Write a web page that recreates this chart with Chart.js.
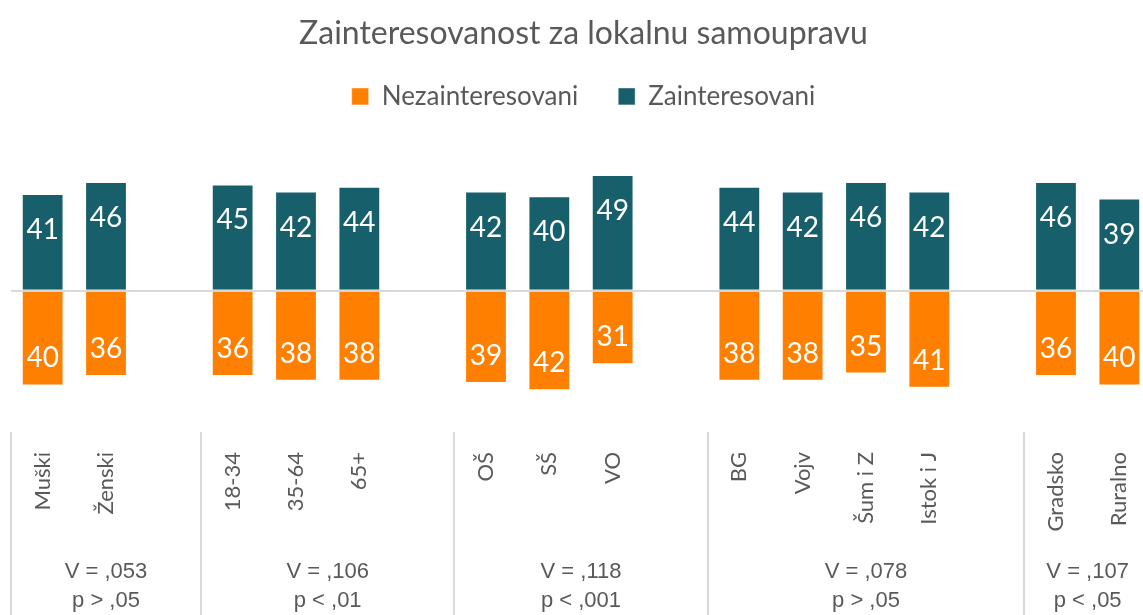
<!DOCTYPE html>
<html>
<head>
<meta charset="utf-8">
<script src="https://cdn.jsdelivr.net/npm/chart.js@4.4.1/dist/chart.umd.min.js"></script>
<style>
  html, body { margin: 0; padding: 0; background: #fff; overflow: hidden; }
  #wrap { width: 1166px; height: 615px; position: relative; }
</style>
</head>
<body>
<div id="wrap"><canvas id="chart"></canvas></div>
<script>
// categories, with empty slots between the groups
const categories = ["Muški", "Ženski", "", "18-34", "35-64", "65+", "", "OŠ", "SŠ", "VO", "",
  "BG", "Vojv", "Šum i Z", "Istok i J", "", "Gradsko", "Ruralno"];
const zainteresovani = [41, 46, null, 45, 42, 44, null, 42, 40, 49, null, 44, 42, 46, 42, null, 46, 39];
const nezainteresovani = [40, 36, null, 36, 38, 38, null, 39, 42, 31, null, 38, 38, 35, 41, null, 36, 40];

// group boundaries (category index where a group starts) and their statistics
const groupStarts = [0, 3, 7, 11, 16, 18];
const groupV = ["V = ,053", "V = ,106", "V = ,118", "V = ,078", "V = ,107"];
const groupP = ["p > ,05", "p < ,01", "p < ,001", "p > ,05", "p < ,05"];

const ORANGE = "#FF7F00";
const TEAL = "#17606B";
const GREY = "#595959";
const FONT = "Lato";

const valueLabels = {
  id: "valueLabels",
  afterDatasetsDraw(chart) {
    const ctx = chart.ctx;
    ctx.save();
    ctx.fillStyle = "#fff";
    ctx.font = "28px " + FONT;
    ctx.textAlign = "center";
    ctx.textBaseline = "middle";
    chart.data.datasets.forEach((ds, di) => {
      const meta = chart.getDatasetMeta(di);
      meta.data.forEach((bar, i) => {
        const v = ds.data[i];
        if (v === null || v === undefined) return;
        const y = v > 0 ? bar.y + 36 : bar.y - 27;
        ctx.fillText(String(Math.abs(v)), bar.x, y);
      });
    });
    ctx.restore();
  }
};

const groupNotes = {
  id: "groupNotes",
  afterDraw(chart) {
    const ctx = chart.ctx;
    const x = chart.scales.x;
    const slot = x.getPixelForValue(1) - x.getPixelForValue(0);
    const edge = (i) => x.getPixelForValue(0) - slot / 2 + i * slot;
    const top = chart.chartArea.bottom;
    ctx.save();
    ctx.strokeStyle = "#D9D9D9";
    ctx.lineWidth = 2;
    groupStarts.slice(0, -1).forEach((g) => {
      const px = Math.round(edge(g));
      ctx.beginPath();
      ctx.moveTo(px, top);
      ctx.lineTo(px, chart.height);
      ctx.stroke();
    });
    ctx.fillStyle = GREY;
    ctx.font = "22px 'Liberation Sans'";
    ctx.textAlign = "center";
    ctx.textBaseline = "middle";
    groupV.forEach((t, k) => {
      const cx = (edge(groupStarts[k]) + edge(groupStarts[k + 1])) / 2;
      ctx.fillText(t, cx, 572);
      ctx.fillText(groupP[k], cx, 601);
    });
    ctx.restore();
  }
};

new Chart(document.getElementById("chart"), {
  type: "bar",
  data: {
    labels: categories,
    datasets: [
      {
        label: "Nezainteresovani",
        data: nezainteresovani.map((v) => (v === null ? null : -v)),
        backgroundColor: ORANGE,
        borderColor: "rgba(255,255,255,0.5)",
        borderWidth: 1,
      },
      {
        label: "Zainteresovani",
        data: zainteresovani,
        backgroundColor: TEAL,
        borderColor: "rgba(255,255,255,0.5)",
        borderWidth: 1,
      },
    ],
  },
  options: {
    responsive: true,
    maintainAspectRatio: false,
    animation: false,
    layout: { padding: { left: 11, right: 10, top: 0, bottom: 0 } },
    datasets: { bar: { categoryPercentage: 1, barPercentage: 0.66 } },
    plugins: {
      title: {
        display: true,
        text: "Zainteresovanost za lokalnu samoupravu",
        color: GREY,
        font: { family: FONT, size: 32, weight: "normal" },
        padding: { top: 14, bottom: -9 },
      },
      legend: {
        display: true,
        labels: {
          color: GREY,
          font: { family: FONT, size: 26 },
          boxWidth: 17,
          boxHeight: 17,
          padding: 40,
        },
      },
      tooltip: { enabled: false },
    },
    scales: {
      x: {
        stacked: true,
        grid: { display: false, drawTicks: false },
        border: { display: false },
        ticks: {
          color: GREY,
          font: { family: FONT, size: 22 },
          minRotation: 90,
          maxRotation: 90,
          autoSkip: false,
          padding: 20,
        },
        afterFit(s) { s.height = 183; },
      },
      y: {
        stacked: true,
        min: -59.7,
        max: 72.5,
        grid: {
          color: (c) => (c.tick && c.tick.value === 0 ? "#D9D9D9" : "transparent"),
          lineWidth: 2,
          drawTicks: false,
        },
        border: { display: false },
        ticks: { display: false, stepSize: 10 },
        afterFit(s) { s.width = 0; },
      },
    },
  },
  plugins: [valueLabels, groupNotes],
});
</script>
</body>
</html>
